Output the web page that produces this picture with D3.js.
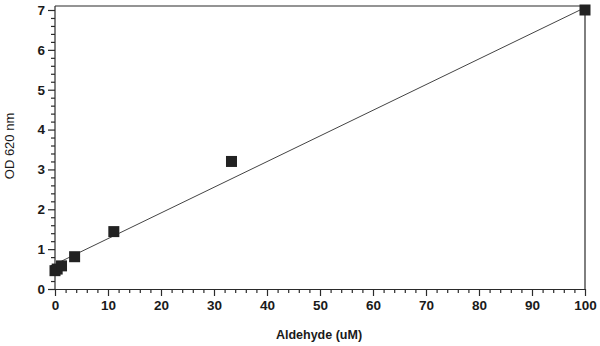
<!DOCTYPE html>
<html><head><meta charset="utf-8">
<script src="https://cdn.jsdelivr.net/npm/d3@7"></script>
<style>body{margin:0;background:#fff}svg{display:block}</style>
</head><body>
<svg id="c" width="600" height="346"></svg>
<script>
const xValues = [0, 0.41, 1.23, 3.7, 11.1, 33.3, 100];
const yValues = [0.46, 0.5, 0.58, 0.81, 1.44, 3.2, 7.0];
const fitIntercept = 0.62;
const fitSlope = 0.0644;
const fitRange = [1.2, 100];
const xTicks = [0,10,20,30,40,50,60,70,80,90,100];
const yTicks = [0,1,2,3,4,5,6,7];
const xLabel = "Aldehyde (uM)";
const yLabel = "OD 620 nm";

const svg = d3.select("#c");
const x = d3.scaleLinear().domain([0,100]).range([55,585]);
const y = d3.scaleLinear().domain([0,7]).range([289,10]);
const yTop = y(7.1);
const axisColor = "#2a2a2a";
const font = "'Liberation Sans', Arial, sans-serif";

// frame top and right
svg.append("line").attr("x1",x(0)).attr("x2",x(100)).attr("y1",yTop).attr("y2",yTop)
  .attr("stroke",axisColor).attr("stroke-width",1.2);
svg.append("line").attr("x1",x(100)).attr("x2",x(100)).attr("y1",yTop).attr("y2",y(0))
  .attr("stroke",axisColor).attr("stroke-width",1.2);

// minor ticks
const xMinor = d3.range(0,101,2).filter(v=>v%10!==0);
const yMinor = d3.range(0,7.01,0.2).map(v=>+v.toFixed(1)).filter(v=>Math.abs(v-Math.round(v))>1e-6);

const gx = svg.append("g").attr("transform",`translate(0,${y(0)})`);
gx.call(d3.axisBottom(x).tickValues(xMinor).tickSize(4).tickFormat(""));
gx.call(g=>g.select(".domain").remove());
const gxM = svg.append("g").attr("transform",`translate(0,${y(0)})`)
  .call(d3.axisBottom(x).tickValues(xTicks).tickSize(7).tickSizeOuter(0).tickPadding(4).tickFormat(d3.format("d")));
const gy = svg.append("g").attr("transform",`translate(${x(0)},0)`);
gy.call(d3.axisLeft(y).tickValues(yMinor).tickSize(4).tickFormat(""));
gy.call(g=>g.select(".domain").remove());
const gyM = svg.append("g").attr("transform",`translate(${x(0)},0)`)
  .call(d3.axisLeft(y).tickValues(yTicks).tickSize(7).tickSizeOuter(0).tickPadding(3).tickFormat(d3.format("d")));
gyM.select(".domain").attr("d",`M0,${yTop}V${y(0)}`);

svg.selectAll(".tick line, .domain").attr("stroke",axisColor).attr("stroke-width",1.2);
svg.selectAll(".tick text").attr("font-family",font).attr("font-weight","bold")
  .attr("font-size",13.5).attr("fill","#1a1a1a");

// fit line
svg.append("line")
  .attr("x1",x(fitRange[0])).attr("y1",y(fitIntercept+fitSlope*fitRange[0]))
  .attr("x2",x(fitRange[1])).attr("y2",y(fitIntercept+fitSlope*fitRange[1]))
  .attr("stroke","#444").attr("stroke-width",1);

// points
const s = 11;
svg.selectAll("rect.pt").data(xValues.map((v,i)=>[v,yValues[i]])).join("rect")
  .attr("class","pt")
  .attr("x",d=>x(d[0])-s/2).attr("y",d=>y(d[1])-s/2)
  .attr("width",s).attr("height",s).attr("fill","#222");

// axis titles
svg.append("text").attr("x",319).attr("y",339).attr("text-anchor","middle")
  .attr("font-family",font).attr("font-weight","bold").attr("font-size",12.5).attr("fill","#1a1a1a")
  .text(xLabel);
svg.append("text").attr("transform","translate(14,146) rotate(-90)").attr("text-anchor","middle")
  .attr("font-family",font).attr("font-size",13).attr("fill","#1a1a1a")
  .text(yLabel);
</script>
</body></html>
